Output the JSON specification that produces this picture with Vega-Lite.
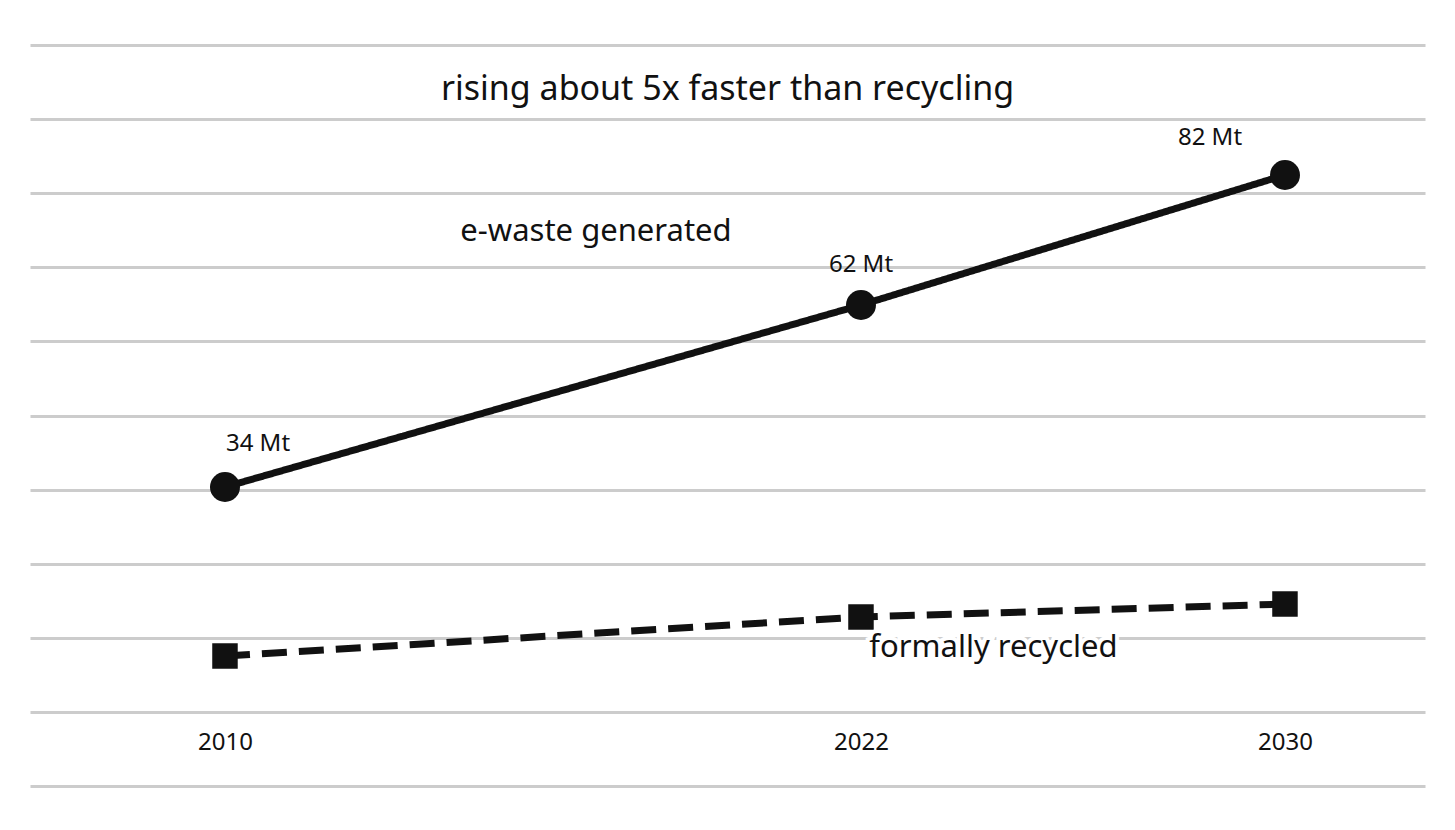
{
  "$schema": "https://vega.github.io/schema/vega-lite/v6.json",
  "autosize": "none",
  "width": 1395,
  "height": 741,
  "padding": {"left": 30, "top": 45, "right": 30, "bottom": 44},
  "background": "white",
  "config": {
    "view": {"stroke": null},
    "font": "Noto Sans",
    "text": {"font": "Noto Sans", "color": "#111111"},
    "axis": {"labelFont": "Noto Sans"}
  },
  "title": {
    "text": "rising about 5x faster than recycling",
    "font": "Noto Sans",
    "fontSize": 34,
    "fontWeight": "normal",
    "color": "#111111",
    "anchor": "middle",
    "offset": -62
  },
  "datasets": {
    "main": [
      {"year": 2010, "series": "e-waste generated", "value": 34, "label": "34 Mt"},
      {"year": 2022, "series": "e-waste generated", "value": 62, "label": "62 Mt"},
      {"year": 2030, "series": "e-waste generated", "value": 82, "label": "82 Mt"},
      {"year": 2010, "series": "formally recycled", "value": 8, "label": ""},
      {"year": 2022, "series": "formally recycled", "value": 14, "label": ""},
      {"year": 2030, "series": "formally recycled", "value": 16, "label": ""}
    ],
    "names": [
      {"label": "e-waste generated", "year": 2017, "value": 73.2},
      {"label": "formally recycled", "year": 2024.5, "value": 9.2}
    ]
  },
  "layer": [
    {
      "data": {"name": "main"},
      "mark": {"type": "line", "color": "#111111", "strokeWidth": 7, "strokeCap": "butt"},
      "encoding": {
        "x": {
          "field": "year", "type": "quantitative",
          "scale": {"domain": [2006.321, 2032.642], "nice": false, "zero": false},
          "axis": {
            "values": [2010, 2022, 2030], "format": "d", "orient": "bottom", "offset": -56,
            "labelFontSize": 24, "labelColor": "#111111", "labelPadding": 0,
            "domain": false, "ticks": false, "grid": false, "title": null
          }
        },
        "y": {
          "field": "value", "type": "quantitative",
          "scale": {"domain": [-12, 102], "nice": false, "zero": false},
          "axis": {
            "values": [-12, -0.6, 10.8, 22.2, 33.6, 45, 56.4, 67.8, 79.2, 90.6, 102],
            "grid": true, "gridColor": "#cccccc", "gridWidth": 3,
            "labels": false, "ticks": false, "domain": false, "title": null
          }
        },
        "detail": {"field": "series"},
        "strokeDash": {
          "field": "series", "type": "nominal",
          "scale": {"domain": ["e-waste generated", "formally recycled"], "range": [[1, 0], [25, 12]]},
          "legend": null
        }
      }
    },
    {
      "data": {"name": "main"},
      "mark": {"type": "point", "filled": true, "color": "#111111", "opacity": 1},
      "encoding": {
        "x": {"field": "year", "type": "quantitative"},
        "y": {"field": "value", "type": "quantitative"},
        "shape": {
          "field": "series", "type": "nominal",
          "scale": {"domain": ["e-waste generated", "formally recycled"], "range": ["circle", "square"]},
          "legend": null
        },
        "size": {
          "field": "series", "type": "nominal",
          "scale": {"domain": ["e-waste generated", "formally recycled"], "range": [900, 650]},
          "legend": null
        }
      }
    },
    {
      "data": {"name": "main"},
      "transform": [{"filter": "datum.year == 2010 && datum.label != ''"}],
      "mark": {"type": "text", "fontSize": 24, "dx": 33, "dy": -43, "color": "#111111"},
      "encoding": {
        "x": {"field": "year", "type": "quantitative"},
        "y": {"field": "value", "type": "quantitative"},
        "text": {"field": "label"}
      }
    },
    {
      "data": {"name": "main"},
      "transform": [{"filter": "datum.year == 2022 && datum.label != ''"}],
      "mark": {"type": "text", "fontSize": 24, "dx": 0, "dy": -40, "color": "#111111"},
      "encoding": {
        "x": {"field": "year", "type": "quantitative"},
        "y": {"field": "value", "type": "quantitative"},
        "text": {"field": "label"}
      }
    },
    {
      "data": {"name": "main"},
      "transform": [{"filter": "datum.year == 2030 && datum.label != ''"}],
      "mark": {"type": "text", "fontSize": 24, "dx": -75, "dy": -37, "color": "#111111"},
      "encoding": {
        "x": {"field": "year", "type": "quantitative"},
        "y": {"field": "value", "type": "quantitative"},
        "text": {"field": "label"}
      }
    },
    {
      "data": {"name": "names"},
      "mark": {"type": "text", "fontSize": 31, "color": "white", "stroke": "white", "strokeWidth": 8},
      "encoding": {
        "x": {"field": "year", "type": "quantitative"},
        "y": {"field": "value", "type": "quantitative"},
        "text": {"field": "label"}
      }
    },
    {
      "data": {"name": "names"},
      "mark": {"type": "text", "fontSize": 31, "color": "#111111"},
      "encoding": {
        "x": {"field": "year", "type": "quantitative"},
        "y": {"field": "value", "type": "quantitative"},
        "text": {"field": "label"}
      }
    }
  ]
}
